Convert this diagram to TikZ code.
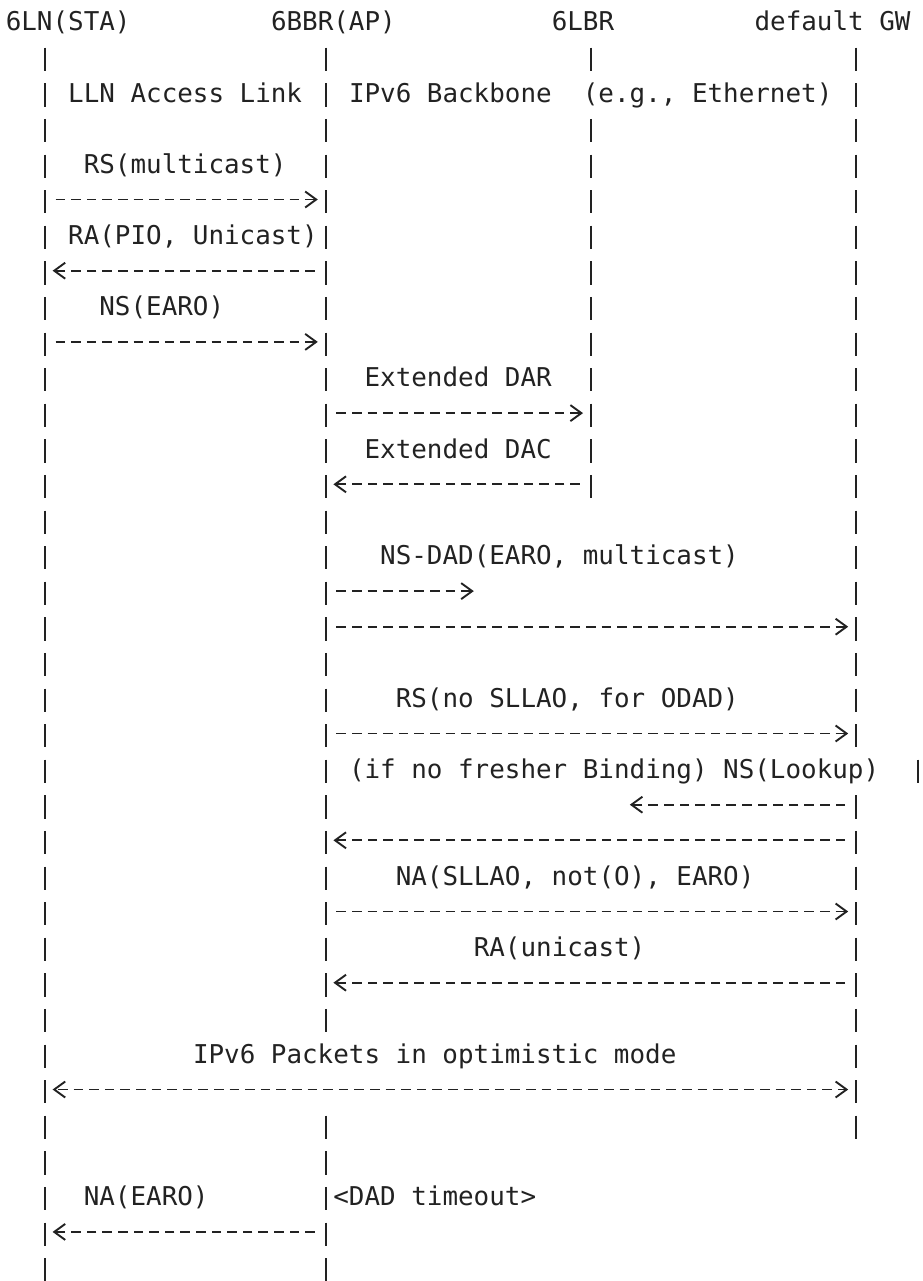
\documentclass[tikz,border=0pt]{standalone}
\usepackage{fontspec}
\newfontfamily\asciifont{DejaVu Sans Mono}
\usetikzlibrary{arrows.meta}
\definecolor{ink}{HTML}{222222}
\tikzset{
  lbl/.style={anchor=base west, inner sep=0pt, outer sep=0pt, text=ink,
              font=\asciifont\fontsize{25.9}{30}\selectfont},
  pipe/.style={draw=ink, line width=1.9pt},
  msg/.style={draw=ink, line width=1.9pt, dash pattern=on 9.6pt off 6pt,
              shorten <=10.86pt, shorten >=7.8pt, ->},
  >={Straight Barb[length=11pt,width=16pt]},
}

\begin{document}
\begin{tikzpicture}[x=15.6pt,y=-35.6pt]
\useasboundingbox (-0.372,0.396) rectangle (58.731,36.379);
% lifeline anchors, one per text row
\foreach \r in {1,...,36}{
  \coordinate (sta\r) at (2.5,\r);
  \coordinate (bbr\r) at (20.5,\r);
  \coordinate (lbr\r) at (37.5,\r);
  \coordinate (gw\r) at (54.5,\r);
}
\coordinate (edge22) at (58.5,22);
\coordinate (dadtip) at (30.5,17);
\coordinate (lookuptip) at (39.5,23);

% headers
\node[lbl] (sta) at (0,1.265) {6LN(STA)};
\node[lbl] (bbr) at (17,1.265) {6BBR(AP)};
\node[lbl] (lbr) at (35,1.265) {6LBR};
\node[lbl] (gw) at (48,1.265) {default GW};

% lifelines
\foreach \r in {2,...,36}
  \draw[pipe] ([yshift=9.4pt]sta\r) -- ([yshift=-13.9pt]sta\r);
\foreach \r in {2,...,29,32,33,34,35,36}
  \draw[pipe] ([yshift=9.4pt]bbr\r) -- ([yshift=-13.9pt]bbr\r);
\foreach \r in {2,4,5,...,14}
  \draw[pipe] ([yshift=9.4pt]lbr\r) -- ([yshift=-13.9pt]lbr\r);
\foreach \r in {2,...,21,23,24,...,32}
  \draw[pipe] ([yshift=9.4pt]gw\r) -- ([yshift=-13.9pt]gw\r);
\draw[pipe] ([yshift=9.4pt]edge22) -- ([yshift=-13.9pt]edge22);

% link labels
\node[lbl] (lln) at (4,3.265) {LLN Access Link};
\node[lbl] (bbone) at (22,3.265) {IPv6 Backbone~~(e.g., Ethernet)};

% messages
\node[lbl] (rsm) at (5,5.265) {RS(multicast)};
\draw[msg] (sta6) -- (bbr6);
\node[lbl] (rapio) at (4,7.265) {RA(PIO, Unicast)};
\draw[msg] (bbr8) -- (sta8);
\node[lbl] (nsearo) at (6,9.265) {NS(EARO)};
\draw[msg] (sta10) -- (bbr10);
\node[lbl] (dar) at (23,11.265) {Extended DAR};
\draw[msg] (bbr12) -- (lbr12);
\node[lbl] (dac) at (23,13.265) {Extended DAC};
\draw[msg] (lbr14) -- (bbr14);
\node[lbl] (nsdad) at (24,16.265) {NS-DAD(EARO, multicast)};
\draw[msg] (bbr17) -- (dadtip);
\draw[msg] (bbr18) -- (gw18);
\node[lbl] (rsodad) at (25,20.265) {RS(no SLLAO, for ODAD)};
\draw[msg] (bbr21) -- (gw21);
\node[lbl] (lookup) at (22,22.265) {(if no fresher Binding) NS(Lookup)};
\draw[msg] (gw23) -- (lookuptip);
\draw[msg] (gw24) -- (bbr24);
\node[lbl] (nasllao) at (25,25.265) {NA(SLLAO, not(O), EARO)};
\draw[msg] (bbr26) -- (gw26);
\node[lbl] (rauni) at (30,27.265) {RA(unicast)};
\draw[msg] (gw28) -- (bbr28);
\node[lbl] (pkts) at (12,30.265) {IPv6 Packets in optimistic mode};
\draw[msg, <->, shorten <=7.8pt, dash phase=12.75pt] (sta31) -- (gw31);
\node[lbl] (naearo) at (5,34.265) {NA(EARO)};
\node[lbl] (dadto) at (21,34.265) {<DAD timeout>};
\draw[msg] (bbr35) -- (sta35);
\end{tikzpicture}
\end{document}
